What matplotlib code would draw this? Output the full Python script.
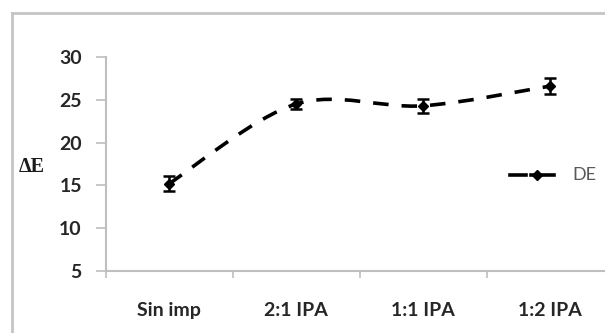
import matplotlib
matplotlib.use("Agg")
import matplotlib.pyplot as plt
import numpy as np
from matplotlib.path import Path
from matplotlib.patches import PathPatch
from matplotlib.lines import Line2D

# datos: diferencia de color por tratamiento
categorias = ['Sin imp', '2:1 IPA', '1:1 IPA', '1:2 IPA']
delta_e = [15.2, 24.5, 24.3, 26.6]
error = [0.85, 0.6, 0.85, 0.9]
yticks = [5, 10, 15, 20, 25, 30]

W, H = 605, 333
fig = plt.figure(figsize=(W / 100, H / 100), dpi=100)
fig.patch.set_facecolor('white')

# marco exterior (solo izquierda y arriba quedan dentro de la imagen)
borde = '#c4c4c4'
fig.add_artist(Line2D([12 / W, 12 / W], [0, 1 - 13 / H], transform=fig.transFigure,
                      color=borde, lw=2))
fig.add_artist(Line2D([12 / W, 1], [1 - 13 / H, 1 - 13 / H], transform=fig.transFigure,
                      color=borde, lw=2))

x0, ybot, ytop, paso = 105.5, 271, 57, 127
ax = fig.add_axes([x0 / W, 1 - ybot / H, (W - x0) / W, (ybot - ytop) / H])
gris = '#bfbfbf'
ax.set_xlim(-0.5, -0.5 + (W - x0) / paso)
ax.set_ylim(5, 30)
for s in ['top', 'right']:
    ax.spines[s].set_visible(False)
for s in ['left', 'bottom']:
    ax.spines[s].set_color(gris)
    ax.spines[s].set_linewidth(1.5)

ax.set_yticks(yticks)
ax.set_yticklabels([str(v) for v in yticks])
ax.set_xticks(np.arange(-0.5, 3.0, 1.0))
ax.set_xticklabels([])
ax.set_xticks(range(len(categorias)), minor=True)
ax.set_xticklabels(categorias, minor=True)
ax.tick_params(axis='y', length=7, width=1.2, color=gris, pad=10)
ax.tick_params(axis='x', which='major', length=5, width=1.2, color=gris)
ax.tick_params(axis='x', which='minor', length=0, pad=22)
for lab in ax.get_yticklabels() + ax.get_xticklabels(minor=True):
    lab.set_fontfamily('Lato')
    lab.set_fontweight('bold')
    lab.set_fontsize(14)
    lab.set_color('#262626')

# linea suavizada (Bezier tipo Catmull-Rom)
x = np.arange(len(delta_e), dtype=float)
pts = np.column_stack([x, delta_e])
verts = [pts[0]]
codes = [Path.MOVETO]
n = len(pts)
for i in range(n - 1):
    p0 = pts[max(i - 1, 0)]
    p1 = pts[i]
    p2 = pts[i + 1]
    p3 = pts[min(i + 2, n - 1)]
    c1 = p1 + (p2 - p0) / 6
    c2 = p2 - (p3 - p1) / 6
    verts += [c1, c2, p2]
    codes += [Path.CURVE4] * 3
curva = PathPatch(Path(verts, codes), fill=False, edgecolor='black', lw=2.6,
                  linestyle=(0, (4.3, 3.6)), capstyle='butt')
ax.add_patch(curva)

ax.errorbar(x, delta_e, yerr=error, fmt='D', color='black', ms=5,
            ecolor='black', elinewidth=1.8, capsize=4, capthick=1.8, zorder=3)

# leyenda
yl = 1 - 175 / H
ax.add_artist(Line2D([510 / W, 526 / W], [yl] * 2, transform=fig.transFigure,
                     color='black', lw=2.6))
ax.add_artist(Line2D([531 / W, 554 / W], [yl] * 2, transform=fig.transFigure,
                     color='black', lw=2.6))
ax.add_artist(Line2D([537 / W], [yl], transform=fig.transFigure,
                     marker='D', ms=5.5, color='black'))
fig.text(572 / W, yl, 'DE', fontfamily='Lato', fontsize=13,
         color='#595959', va='center', ha='left')

fig.text(32 / W, 1 - 166.5 / H, '\u0394E', fontfamily='Liberation Serif', fontweight='bold',
         fontsize=14.5, color='#1a1a1a', va='center', ha='center')

fig.savefig('out.png', dpi=100)
